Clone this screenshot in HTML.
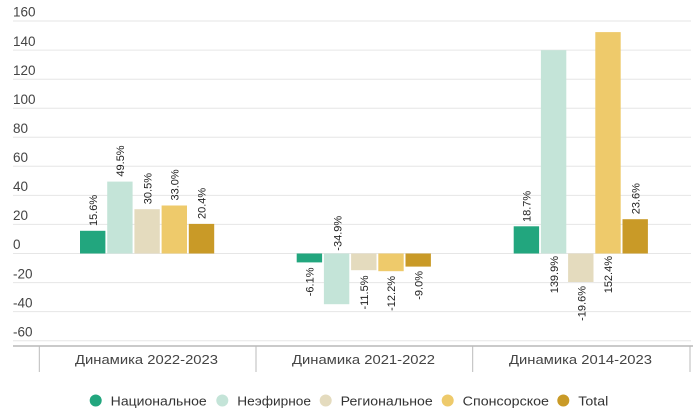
<!DOCTYPE html>
<html>
<head>
<meta charset="utf-8">
<style>
html,body{margin:0;padding:0;background:#fff;}
svg{display:block;}
text{font-family:"Liberation Sans","DejaVu Sans",sans-serif;}
</style>
</head>
<body>
<svg width="700" height="415" viewBox="0 0 700 415" xmlns="http://www.w3.org/2000/svg">
<rect width="700" height="415" fill="#fff"/>
<!-- gridlines -->
<g stroke="#e6e6e6" stroke-width="1">
<line x1="13" x2="691" y1="21" y2="21"/>
<line x1="13" x2="691" y1="50.1" y2="50.1"/>
<line x1="13" x2="691" y1="79.2" y2="79.2"/>
<line x1="13" x2="691" y1="108.2" y2="108.2"/>
<line x1="13" x2="691" y1="137.3" y2="137.3"/>
<line x1="13" x2="691" y1="166.3" y2="166.3"/>
<line x1="13" x2="691" y1="195.4" y2="195.4"/>
<line x1="13" x2="691" y1="224.4" y2="224.4"/>
<line x1="13" x2="691" y1="253.5" y2="253.5"/>
<line x1="13" x2="691" y1="282.6" y2="282.6"/>
<line x1="13" x2="691" y1="311.6" y2="311.6"/>
<line x1="13" x2="691" y1="340.7" y2="340.7"/>
</g>
<!-- y labels -->
<g font-size="13.5" fill="#444">
<text x="13" y="16.7">160</text>
<text x="13" y="45.8">140</text>
<text x="13" y="74.9">120</text>
<text x="13" y="103.9">100</text>
<text x="13" y="133">80</text>
<text x="13" y="162">60</text>
<text x="13" y="191.1">40</text>
<text x="13" y="220.1">20</text>
<text x="13" y="249.2">0</text>
<text x="13" y="278.3">-20</text>
<text x="13" y="307.3">-40</text>
<text x="13" y="336.4">-60</text>
</g>
<!-- x axis -->
<line x1="13" x2="693" y1="346" y2="346" stroke="#aaa" stroke-width="1.2"/>
<g stroke="#bbb" stroke-width="1">
<line x1="39.3" x2="39.3" y1="346" y2="372"/>
<line x1="256" x2="256" y1="346" y2="372"/>
<line x1="472.7" x2="472.7" y1="346" y2="372"/>
<line x1="690" x2="690" y1="346" y2="372"/>
</g>
<g font-size="13" fill="#444">
<text x="75" y="364" textLength="143" lengthAdjust="spacingAndGlyphs">Динамика 2022-2023</text>
<text x="292" y="364" textLength="143" lengthAdjust="spacingAndGlyphs">Динамика 2021-2022</text>
<text x="509" y="364" textLength="143" lengthAdjust="spacingAndGlyphs">Динамика 2014-2023</text>
</g>
<!-- bars cat1 -->
<rect x="80" y="230.8" width="25.4" height="22.7" fill="#22a67e"/>
<rect x="107.2" y="181.6" width="25.4" height="71.9" fill="#c4e4d8"/>
<rect x="134.4" y="209.2" width="25.4" height="44.3" fill="#e4dbbe"/>
<rect x="161.6" y="205.5" width="25.4" height="48" fill="#eeca6b"/>
<rect x="188.8" y="223.9" width="25.4" height="29.6" fill="#c99a27"/>
<!-- bars cat2 -->
<rect x="296.7" y="253.5" width="25.4" height="8.9" fill="#22a67e"/>
<rect x="323.9" y="253.5" width="25.4" height="50.7" fill="#c4e4d8"/>
<rect x="351.1" y="253.5" width="25.4" height="16.7" fill="#e4dbbe"/>
<rect x="378.3" y="253.5" width="25.4" height="17.7" fill="#eeca6b"/>
<rect x="405.5" y="253.5" width="25.4" height="13.1" fill="#c99a27"/>
<!-- bars cat3 -->
<rect x="513.7" y="226.3" width="25.4" height="27.2" fill="#22a67e"/>
<rect x="540.9" y="50.2" width="25.4" height="203.3" fill="#c4e4d8"/>
<rect x="568.1" y="253.5" width="25.4" height="28.5" fill="#e4dbbe"/>
<rect x="595.3" y="32.1" width="25.4" height="221.4" fill="#eeca6b"/>
<rect x="622.5" y="219.2" width="25.4" height="34.3" fill="#c99a27"/>
<!-- data labels -->
<g font-size="11" fill="#222">
<text transform="translate(97.2,226) rotate(-90)">15.6%</text>
<text transform="translate(124.2,176.6) rotate(-90)">49.5%</text>
<text transform="translate(151.3,204.2) rotate(-90)">30.5%</text>
<text transform="translate(178.5,200.5) rotate(-90)">33.0%</text>
<text transform="translate(205.7,219) rotate(-90)">20.4%</text>

<text transform="translate(313.6,267.5) rotate(-90)" text-anchor="end">-6.1%</text>
<text transform="translate(341.3,250.7) rotate(-90)">-34.9%</text>
<text transform="translate(367.8,275.5) rotate(-90)" text-anchor="end">-11.5%</text>
<text transform="translate(395,276) rotate(-90)" text-anchor="end">-12.2%</text>
<text transform="translate(422.4,271) rotate(-90)" text-anchor="end">-9.0%</text>

<text transform="translate(530.6,222) rotate(-90)">18.7%</text>
<text transform="translate(558,293.3) rotate(-90)">139.9%</text>
<text transform="translate(585.7,286) rotate(-90)" text-anchor="end">-19.6%</text>
<text transform="translate(612,293.3) rotate(-90)">152.4%</text>
<text transform="translate(639.4,214.3) rotate(-90)">23.6%</text>
</g>
<!-- legend -->
<circle cx="95.7" cy="400.5" r="6" fill="#22a67e"/>
<circle cx="222.3" cy="400.5" r="6" fill="#c4e4d8"/>
<circle cx="325.7" cy="400.5" r="6" fill="#e4dbbe"/>
<circle cx="447.7" cy="400.5" r="6" fill="#eeca6b"/>
<circle cx="563.3" cy="400.5" r="6" fill="#c99a27"/>
<g font-size="13" fill="#333">
<text x="110.7" y="405.5" textLength="96" lengthAdjust="spacingAndGlyphs">Национальное</text>
<text x="237.3" y="405.5" textLength="73.7" lengthAdjust="spacingAndGlyphs">Неэфирное</text>
<text x="340.7" y="405.5" textLength="92" lengthAdjust="spacingAndGlyphs">Региональное</text>
<text x="462.7" y="405.5" textLength="86.3" lengthAdjust="spacingAndGlyphs">Спонсорское</text>
<text x="578.3" y="405.5" textLength="30" lengthAdjust="spacingAndGlyphs">Total</text>
</g>
</svg>
</body>
</html>
